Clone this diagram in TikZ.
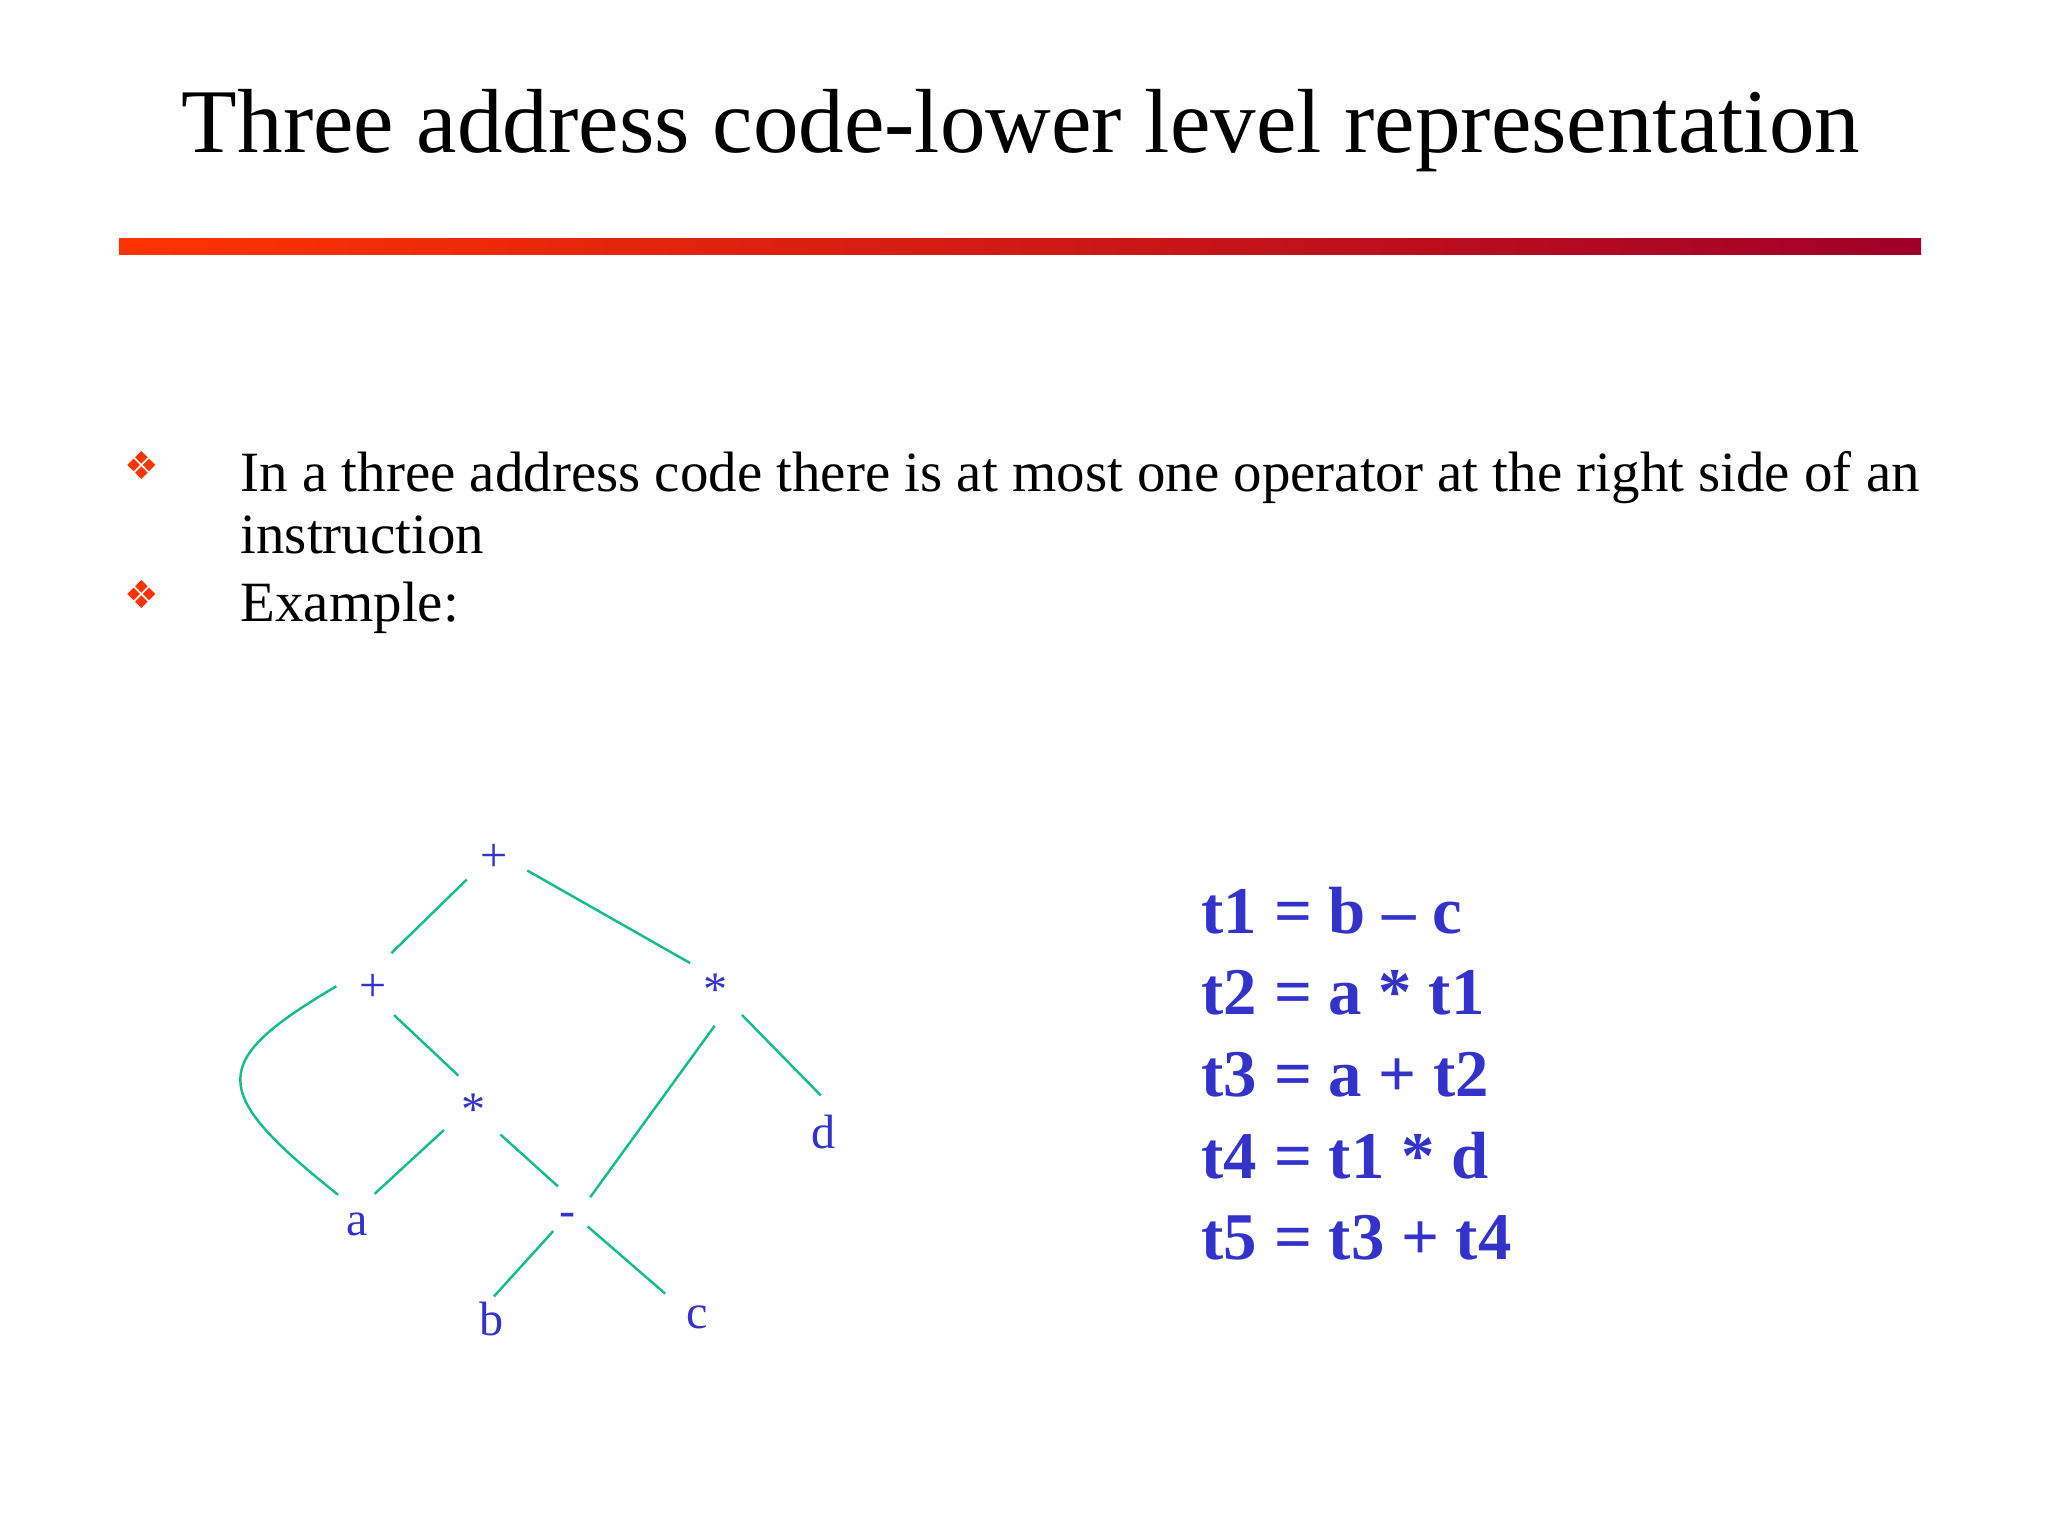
\documentclass[tikz,border=0pt]{standalone}
\usepackage{fontspec}
\setmainfont{Liberation Serif}
\newfontfamily\dingfont{DejaVu Sans}
\definecolor{textblue}{RGB}{51,51,204}
\definecolor{edgegreen}{RGB}{20,190,140}
\definecolor{barleft}{RGB}{255,51,0}
\definecolor{barright}{RGB}{160,0,40}
\definecolor{bulletred}{RGB}{255,51,0}
\begin{document}
\begin{tikzpicture}[
  tnode/.style={circle,inner sep=0pt,minimum size=0.72cm,text=textblue,
    font=\fontsize{13.7}{16}\selectfont,text height=9.6pt,text depth=0pt},
  tedge/.style={draw=edgegreen,line width=0.7pt},
  bul/.style={text=bulletred,font=\dingfont\fontsize{11}{13}\selectfont,inner sep=0pt},
  body/.style={anchor=base west,inner sep=0pt,font=\fontsize{16.2}{19}\selectfont},
  code/.style={anchor=base west,inner sep=0pt,text=textblue,
    font=\bfseries\fontsize{19}{23}\selectfont}]
\useasboundingbox (0,0) rectangle (20.48,-15.36);
% title and bar
\node[anchor=base,inner sep=0pt,font=\fontsize{25.9}{31}\selectfont] (title) at (10.21,-1.53)
  {Three address code-lower level representation};
\shade[left color=barleft,right color=barright] (1.19,-2.39) rectangle (19.21,-2.55);
% bullets
\node[bul] (b1) at (1.42,-4.65) {❖};
\node[bul] (b2) at (1.42,-5.94) {❖};
\node[body] (line1) at (2.40,-4.92) {In a three address code there is at most one operator at the right side of an};
\node[body] (line2) at (2.40,-5.54) {instruction};
\node[body] (line3) at (2.40,-6.21) {Example:};
% the tree
\node[tnode] (root) at (4.94,-8.55) {+};
\node[tnode] (lp) at (3.73,-9.85) {+};
\node[tnode] (rs) at (7.16,-9.89) {*};
\node[tnode] (ms) at (4.74,-11.09) {*};
\node[tnode,minimum size=0.6cm] (a) at (3.57,-12.19) {a};
\node[tnode,minimum size=0.5cm] (mn) at (5.68,-12.10) {-};
\node[tnode] (d) at (8.24,-11.32) {d};
\node[tnode,minimum size=0.44cm] (b) at (4.92,-13.19) {b};
\node[tnode] (c) at (6.97,-13.12) {c};
\draw[tedge] (root.222) -- (lp.60);
\draw[tedge] (root.335) -- (rs.135);
\draw[tedge] (lp.305) -- (ms.115);
\draw[tedge] (lp.182) .. controls (2.08,-10.62) and (2.08,-10.91) .. (a.128);
\draw[tedge] (ms.215) -- (a.55);
\draw[tedge] (ms.316) -- (mn.113);
\draw[tedge] (rs.268) -- (mn.30);
\draw[tedge] (rs.315) -- (d.95);
\draw[tedge] (mn.235) -- (b.85);
\draw[tedge] (mn.320) -- (c.150);
% three address code
\foreach \txt [count=\i] in {t1 = b – c,t2 = a * t1,t3 = a + t2,t4 = t1 * d,t5 = t3 + t4}
  \node[code] (t\i) at (12.01,{-9.33-0.817*(\i-1)}) {\txt};
\end{tikzpicture}
\end{document}
